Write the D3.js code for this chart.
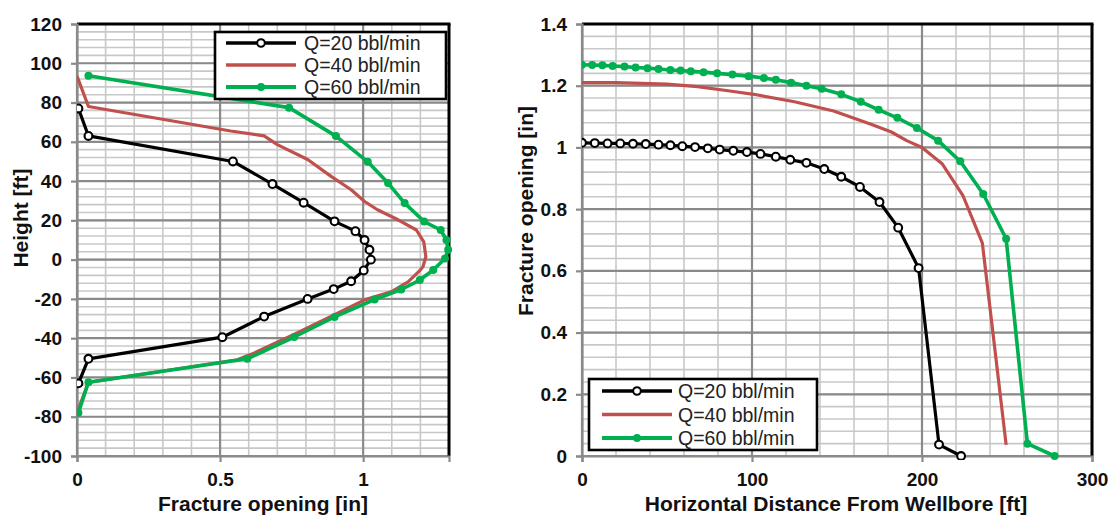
<!DOCTYPE html>
<html>
<head>
<meta charset="utf-8">
<script src="https://cdn.jsdelivr.net/npm/d3@7"></script>
<style>
html,body{margin:0;padding:0;background:#fff;}
svg{display:block;}
text{font-family:"Liberation Sans",Arial,sans-serif;}
</style>
</head>
<body>
<svg id="chart" width="1110" height="515"></svg>
<script>
// ---------- DATA ----------
const seriesNames = ["Q=20 bbl/min", "Q=40 bbl/min", "Q=60 bbl/min"];
const seriesColors = ["#000000", "#c0504d", "#00b050"];

// Left chart: fracture opening [in] (x) vs height [ft] (y)
const leftQ20Open   = [0.005, 0.04, 0.545, 0.683, 0.792, 0.90, 0.973, 1.005, 1.022, 1.027, 1.002, 0.958, 0.897, 0.806, 0.654, 0.508, 0.04, 0.005];
const leftQ20Height = [77, 63, 50, 38.5, 29, 19.5, 14.5, 10, 5, 0, -5.5, -11, -15, -20, -29, -39.5, -50.5, -63];

const leftQ40Open   = [0.0, 0.04, 0.537, 0.654, 0.70, 0.806, 0.888, 0.958, 1.005, 1.05, 1.122, 1.186, 1.212, 1.219, 1.209, 1.195, 1.157, 1.098, 1.005, 0.90, 0.76, 0.62, 0.56, 0.04, 0.0];
const leftQ40Height = [93.5, 78, 65.5, 63, 58.6, 51, 42.4, 35.6, 29.6, 25.4, 20.3, 15.1, 9, 1.5, -3.6, -6, -11.3, -16.4, -20.5, -28, -38, -47.5, -51, -62.5, -78];

const leftQ60Open   = [0.04, 0.741, 0.905, 1.016, 1.087, 1.145, 1.213, 1.271, 1.291, 1.297, 1.286, 1.245, 1.198, 1.133, 1.04, 0.90, 0.759, 0.595, 0.04, 0.005];
const leftQ60Height = [93.6, 77.4, 62.9, 49.8, 39, 28.8, 19.4, 15.1, 10, 5, 0.6, -5.3, -10.4, -15.2, -20.3, -29.2, -39.4, -50.5, -62.4, -78];

// Right chart: horizontal distance [ft] (x) vs fracture opening [in] (y)
const rightQ20Dist = [0, 7.5, 15, 22.5, 30, 37.5, 45, 52, 59, 66.5, 74, 81, 89, 97, 105, 114, 122.5, 132, 142.5, 152.5, 163.5, 175, 186, 198, 210, 223];
const rightQ20Open = [1.015, 1.014, 1.013, 1.013, 1.012, 1.011, 1.009, 1.007, 1.004, 1.001, 0.997, 0.993, 0.989, 0.985, 0.979, 0.970, 0.960, 0.950, 0.930, 0.905, 0.872, 0.823, 0.740, 0.609, 0.037, 0.0];

const rightQ40Dist = [0, 20, 40, 50, 68, 88, 100, 125, 148, 170, 182, 191, 200, 212, 224, 235.5, 249.5];
const rightQ40Open = [1.21, 1.21, 1.207, 1.205, 1.197, 1.182, 1.173, 1.148, 1.118, 1.075, 1.05, 1.022, 1.0, 0.946, 0.845, 0.69, 0.036];

const rightQ60Dist = [0, 6, 12, 18, 25, 31.5, 38.5, 45, 52, 58, 64, 71.5, 79.5, 88.5, 98, 107, 114, 123, 132, 141, 152.5, 164, 174.5, 185.5, 197, 209.5, 222.5, 236, 249.5, 262, 278];
const rightQ60Open = [1.268, 1.267, 1.266, 1.264, 1.262, 1.259, 1.257, 1.254, 1.251, 1.249, 1.247, 1.244, 1.240, 1.236, 1.231, 1.225, 1.219, 1.210, 1.200, 1.190, 1.172, 1.148, 1.122, 1.096, 1.063, 1.022, 0.955, 0.849, 0.704, 0.04, 0.0];

// Axis ticks
const leftXTicks = [0, 0.5, 1];
const leftYTicks = [-100, -80, -60, -40, -20, 0, 20, 40, 60, 80, 100, 120];
const rightXTicks = [0, 100, 200, 300];
const rightYTicks = [0, 0.2, 0.4, 0.6, 0.8, 1, 1.2, 1.4];

// ---------- DRAW ----------
const svg = d3.select("#chart");
const zip = (xs, ys) => xs.map((x, i) => [x, ys[i]]);

function panel(cfg) {
  const g = svg.append("g");
  const x = d3.scaleLinear().domain(cfg.xDomain).range(cfg.xRange);
  const y = d3.scaleLinear().domain(cfg.yDomain).range(cfg.yRange);
  const [x0, x1] = cfg.xRange, [y0, y1] = cfg.yRange; // y0 bottom, y1 top

  // minor grid
  const minorX = d3.range(cfg.xDomain[0], cfg.xDomain[1] + 1e-9, cfg.xMinor);
  const minorY = d3.range(cfg.yDomain[0], cfg.yDomain[1] + 1e-9, cfg.yMinor);
  g.append("g").selectAll("line").data(minorX).join("line")
    .attr("x1", d => x(d)).attr("x2", d => x(d)).attr("y1", y0).attr("y2", y1)
    .attr("stroke", "#c8c8c8").attr("stroke-width", 1.6);
  g.append("g").selectAll("line").data(minorY).join("line")
    .attr("x1", x0).attr("x2", x1).attr("y1", d => y(d)).attr("y2", d => y(d))
    .attr("stroke", "#c8c8c8").attr("stroke-width", 1.6);
  // major grid
  g.append("g").selectAll("line").data(cfg.xTicks).join("line")
    .attr("x1", d => x(d)).attr("x2", d => x(d)).attr("y1", y0).attr("y2", y1)
    .attr("stroke", "#8a8a8a").attr("stroke-width", 2.2);
  g.append("g").selectAll("line").data(cfg.yTicks).join("line")
    .attr("x1", x0).attr("x2", x1).attr("y1", d => y(d)).attr("y2", d => y(d))
    .attr("stroke", "#8a8a8a").attr("stroke-width", 2.2);
  // border top and right
  g.append("line").attr("x1", x0).attr("x2", x1 + 1.5).attr("y1", y1).attr("y2", y1)
    .attr("stroke", "#000").attr("stroke-width", 3);
  g.append("line").attr("x1", x1).attr("x2", x1).attr("y1", y1).attr("y2", y0)
    .attr("stroke", "#000").attr("stroke-width", 3);

  // axes
  const ax = g.append("g").attr("transform", `translate(0,${y0})`)
    .call(d3.axisBottom(x).tickValues(cfg.xTicks).tickSize(6).tickPadding(11).tickFormat(cfg.xFmt));
  const ay = g.append("g").attr("transform", `translate(${x0},0)`)
    .call(d3.axisLeft(y).tickValues(cfg.yTicks).tickSize(6).tickPadding(9).tickFormat(cfg.yFmt));
  [ax, ay].forEach(a => {
    a.select(".domain").attr("stroke", "#8a8a8a").attr("stroke-width", 2.2);
    a.selectAll(".tick line").attr("stroke", "#8a8a8a").attr("stroke-width", 2.2);
    a.selectAll(".tick text").attr("font-family", "'Liberation Sans',Arial,sans-serif")
      .attr("font-size", 19).attr("font-weight", "bold").attr("fill", "#111");
  });
  ax.selectAll(".tick text").attr("dy", "0.71em");

  // clip
  const clipId = "clip" + cfg.id;
  svg.append("clipPath").attr("id", clipId).append("rect")
    .attr("x", x0).attr("y", y1 - 4).attr("width", x1 - x0 + 4).attr("height", y0 - y1 + 8);
  const plot = g.append("g").attr("clip-path", `url(#${clipId})`);
  const line = d3.line().x(d => x(d[0])).y(d => y(d[1]));

  cfg.series.forEach((s, i) => {
    plot.append("path").datum(s.data).attr("d", line)
      .attr("fill", "none").attr("stroke", seriesColors[i])
      .attr("stroke-width", i === 2 ? 3.6 : 3.2).attr("stroke-linejoin", "round");
  });
  cfg.series.forEach((s, i) => {
    if (s.marker === "open") {
      plot.append("g").selectAll("circle").data(s.data).join("circle")
        .attr("cx", d => x(d[0])).attr("cy", d => y(d[1])).attr("r", 3.9)
        .attr("fill", "#fff").attr("stroke", "#000").attr("stroke-width", 2.1);
    } else if (s.marker === "dot") {
      plot.append("g").selectAll("circle").data(s.data).join("circle")
        .attr("cx", d => x(d[0])).attr("cy", d => y(d[1])).attr("r", 4)
        .attr("fill", seriesColors[i]);
    }
  });

  // axis titles
  g.append("text").attr("x", cfg.xTitlePos[0]).attr("y", cfg.xTitlePos[1])
    .attr("text-anchor", "middle").attr("font-size", 21).attr("font-weight", "bold")
    .attr("fill", "#111").text(cfg.xTitle);
  g.append("text").attr("transform", `translate(${cfg.yTitlePos[0]},${cfg.yTitlePos[1]}) rotate(-90)`)
    .attr("text-anchor", "middle").attr("font-size", 21).attr("font-weight", "bold")
    .attr("fill", "#111").text(cfg.yTitle);

  // legend
  const L = cfg.legend;
  const lg = g.append("g");
  lg.append("rect").attr("x", L.x).attr("y", L.y).attr("width", L.w).attr("height", L.h)
    .attr("fill", "#fff").attr("stroke", "#000").attr("stroke-width", 2.6);
  seriesNames.forEach((name, i) => {
    const ry = L.y + L.row0 + i * L.rowH;
    lg.append("line").attr("x1", L.x + L.lx0).attr("x2", L.x + L.lx1).attr("y1", ry).attr("y2", ry)
      .attr("stroke", seriesColors[i]).attr("stroke-width", i === 2 ? 4 : 3.4);
    const mx = L.x + (L.lx0 + L.lx1) / 2;
    if (i === 0) lg.append("circle").attr("cx", mx).attr("cy", ry).attr("r", 3.8)
      .attr("fill", "#fff").attr("stroke", "#000").attr("stroke-width", 2);
    if (i === 2) lg.append("circle").attr("cx", mx).attr("cy", ry).attr("r", 4).attr("fill", seriesColors[2]);
    lg.append("text").attr("x", L.x + L.tx).attr("y", ry).attr("dy", "0.36em")
      .attr("font-size", 19.5).attr("fill", "#222").text(name);
  });
}

panel({
  id: "L",
  xDomain: [0, 1.3], xRange: [77, 449],
  yDomain: [-100, 120], yRange: [456, 24],
  xMinor: 0.1, yMinor: 4,
  xTicks: leftXTicks, yTicks: leftYTicks,
  xFmt: d => String(d), yFmt: d => String(d),
  series: [
    { data: zip(leftQ20Open, leftQ20Height), marker: "open" },
    { data: zip(leftQ40Open, leftQ40Height), marker: "none" },
    { data: zip(leftQ60Open, leftQ60Height), marker: "dot" }
  ],
  xTitle: "Fracture opening [in]", xTitlePos: [263, 511],
  yTitle: "Height [ft]", yTitlePos: [28, 218],
  legend: { x: 215, y: 32, w: 231, h: 67, row0: 11, rowH: 22, lx0: 11, lx1: 81, tx: 89 }
});

panel({
  id: "R",
  xDomain: [0, 300], xRange: [582, 1092],
  yDomain: [0, 1.4], yRange: [456, 24],
  xMinor: 20, yMinor: 0.04,
  xTicks: rightXTicks, yTicks: rightYTicks,
  xFmt: d => String(d), yFmt: d => String(d),
  series: [
    { data: zip(rightQ20Dist, rightQ20Open), marker: "open" },
    { data: zip(rightQ40Dist, rightQ40Open), marker: "none" },
    { data: zip(rightQ60Dist, rightQ60Open), marker: "dot" }
  ],
  xTitle: "Horizontal Distance From Wellbore [ft]", xTitlePos: [836, 511],
  yTitle: "Fracture opening [in]", yTitlePos: [533, 211],
  legend: { x: 589, y: 379, w: 228, h: 71, row0: 12, rowH: 23.5, lx0: 13, lx1: 83, tx: 89 }
});
</script>
</body>
</html>
